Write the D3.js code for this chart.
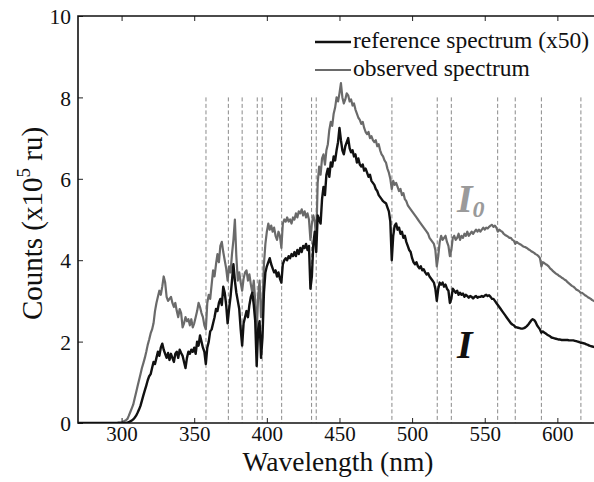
<!DOCTYPE html>
<html>
<head>
<meta charset="utf-8">
<script src="https://cdn.jsdelivr.net/npm/d3@7/dist/d3.min.js"></script>
<style>
  html, body { margin: 0; padding: 0; background: #fff; }
  svg { display: block; }
  text { font-family: "Liberation Serif", "DejaVu Serif", serif; fill: #111; }
</style>
</head>
<body>
<svg id="chart" width="594" height="482"></svg>
<script>
// Wavelength grid of the spectra (nm), one sample per nanometre
const waveStart = 270;
const waveEnd = 630;

// Observed spectrum, counts in units of 1e5
const observed = [
  /*270*/ 0,0,0,0,0,0,0,0,0,0,
  /*280*/ 0,0,0,0,0,0,0,0,0,0,
  /*290*/ 0,0,0,0,0,0,0,0,0.01,0.01,
  /*300*/ 0.01,0.03,0.05,0.07,0.1,0.18,0.27,0.36,0.45,0.6,
  /*310*/ 0.75,0.9,1.05,1.2,1.35,1.47,1.6,1.75,1.92,2.05,
  /*320*/ 2.2,2.3,2.45,2.75,2.95,3.1,3.25,3.15,3.35,3.6,
  /*330*/ 3.45,3.1,3.0,3.05,3.1,2.95,2.85,2.95,2.75,2.6,
  /*340*/ 2.8,2.7,2.35,2.45,2.6,2.5,2.55,2.4,2.55,2.35,
  /*350*/ 2.45,2.6,2.75,2.95,2.85,2.7,2.6,2.4,2.3,2.95,
  /*360*/ 3.15,3.05,3.4,3.75,3.6,3.9,4.15,3.95,4.35,4.45,
  /*370*/ 4.2,4.0,3.8,3.5,3.85,3.7,4.15,4.5,5.0,4.1,
  /*380*/ 3.5,3.7,3.45,3.25,3.55,3.7,3.75,3.5,3.65,3.4,
  /*390*/ 3.2,3.5,3.0,2.2,3.1,3.5,2.6,2.9,3.9,4.4,
  /*400*/ 4.7,4.9,4.75,4.85,4.7,4.8,4.6,4.5,4.7,4.6,
  /*410*/ 4.3,4.9,5.0,4.95,5.05,4.95,5.0,4.9,5.05,5.0,
  /*420*/ 5.15,5.05,5.2,5.15,5.25,5.1,5.2,5.05,5.15,5.0,
  /*430*/ 4.5,4.9,5.1,4.95,4.5,5.9,6.3,6.1,6.5,6.6,
  /*440*/ 6.35,6.7,6.85,7.2,7.4,7.3,7.6,7.75,8.0,7.9,
  /*450*/ 8.1,8.35,8.0,7.85,7.95,8.1,8.05,7.9,7.95,7.8,
  /*460*/ 7.85,7.7,7.6,7.5,7.45,7.35,7.4,7.25,7.15,7.1,
  /*470*/ 7.15,7.0,7.05,6.95,6.9,6.95,6.8,6.85,6.7,6.6,
  /*480*/ 6.55,6.45,6.4,6.25,6.15,6.0,5.75,5.95,5.85,5.9,
  /*490*/ 5.8,5.7,5.75,5.6,5.65,5.5,5.45,5.35,5.3,5.25,
  /*500*/ 5.2,5.15,5.1,5.05,5.0,4.95,4.9,4.85,4.8,4.75,
  /*510*/ 4.7,4.65,4.55,4.5,4.45,4.4,4.25,3.85,4.1,4.45,
  /*520*/ 4.6,4.5,4.55,4.6,4.45,4.35,4.1,4.25,4.55,4.6,
  /*530*/ 4.5,4.55,4.65,4.5,4.6,4.55,4.65,4.6,4.7,4.6,
  /*540*/ 4.65,4.7,4.65,4.7,4.75,4.7,4.75,4.7,4.75,4.8,
  /*550*/ 4.75,4.8,4.78,4.82,4.85,4.87,4.82,4.85,4.8,4.7,
  /*560*/ 4.75,4.72,4.7,4.65,4.62,4.6,4.58,4.55,4.55,4.5,
  /*570*/ 4.48,4.4,4.45,4.42,4.4,4.38,4.35,4.33,4.32,4.3,
  /*580*/ 4.27,4.25,4.22,4.2,4.18,4.15,4.13,4.1,4.05,3.85,
  /*590*/ 3.95,3.93,3.9,3.88,3.85,3.8,3.77,3.73,3.7,3.67,
  /*600*/ 3.65,3.62,3.6,3.57,3.55,3.52,3.5,3.46,3.43,3.4,
  /*610*/ 3.37,3.35,3.32,3.28,3.26,3.24,3.2,3.2,3.17,3.14,
  /*620*/ 3.12,3.09,3.07,3.05,3.02,3.0,2.98,2.95,2.93,2.9,
  /*630*/ 2.88
];

// Reference spectrum (scaled x50), counts in units of 1e5
const reference = [
  /*270*/ 0,0,0,0,0,0,0,0,0,0,
  /*280*/ 0,0,0,0,0,0,0,0,0,0,
  /*290*/ 0,0,0,0,0,0,0,0,0,0,
  /*300*/ 0,0,0,0,0.01,0.02,0.04,0.06,0.09,0.13,
  /*310*/ 0.18,0.25,0.33,0.42,0.55,0.68,0.8,0.92,1.05,1.15,
  /*320*/ 1.2,1.35,1.5,1.45,1.6,1.75,1.65,1.85,1.95,1.8,
  /*330*/ 1.7,1.6,1.72,1.55,1.7,1.6,1.5,1.7,1.75,1.6,
  /*340*/ 1.8,1.72,1.65,1.5,1.35,1.6,1.75,1.7,1.8,1.75,
  /*350*/ 1.85,1.7,2.0,1.9,2.15,2.0,1.85,1.75,1.45,1.85,
  /*360*/ 2.0,2.25,2.3,2.45,2.6,2.8,2.75,2.95,3.05,2.9,
  /*370*/ 3.35,3.2,2.9,2.45,2.8,3.1,3.5,3.9,3.5,3.2,
  /*380*/ 3.0,2.8,2.3,1.9,2.45,2.6,2.75,2.6,2.9,3.1,
  /*390*/ 3.2,2.9,2.5,1.4,2.3,2.5,1.6,2.1,3.2,3.7,
  /*400*/ 3.85,3.95,4.05,3.9,3.8,3.7,3.75,3.6,3.7,3.55,
  /*410*/ 3.45,3.9,4.0,4.05,4.0,4.1,4.05,4.15,4.1,4.2,
  /*420*/ 4.1,4.25,4.15,4.3,4.2,4.35,4.3,4.4,4.25,4.35,
  /*430*/ 3.3,3.6,4.4,4.7,4.2,5.1,5.0,4.9,5.5,5.8,
  /*440*/ 5.6,6.1,6.25,6.05,6.4,6.3,6.55,6.45,6.7,6.9,
  /*450*/ 7.25,6.95,6.7,6.6,6.8,6.9,7.0,6.75,6.65,6.7,
  /*460*/ 6.55,6.6,6.4,6.5,6.35,6.3,6.35,6.2,6.25,6.15,
  /*470*/ 6.05,6.1,5.95,5.9,5.85,5.75,5.7,5.6,5.55,5.5,
  /*480*/ 5.45,5.42,5.4,5.3,5.2,4.95,4.0,4.6,4.85,4.9,
  /*490*/ 4.75,4.8,4.65,4.7,4.55,4.6,4.45,4.35,4.25,4.2,
  /*500*/ 4.05,3.95,3.9,3.95,3.85,3.8,3.85,3.75,3.78,3.7,
  /*510*/ 3.65,3.68,3.6,3.55,3.5,3.45,3.3,3.0,3.3,3.45,
  /*520*/ 3.4,3.45,3.35,3.4,3.3,3.25,2.95,3.05,3.3,3.25,
  /*530*/ 3.2,3.25,3.15,3.2,3.15,3.18,3.1,3.15,3.12,3.08,
  /*540*/ 3.12,3.1,3.06,3.1,3.12,3.08,3.1,3.1,3.12,3.1,
  /*550*/ 3.13,3.15,3.12,3.14,3.1,3.05,3.05,3.0,2.95,2.9,
  /*560*/ 2.85,2.8,2.75,2.7,2.65,2.6,2.55,2.5,2.45,2.42,
  /*570*/ 2.4,2.36,2.35,2.34,2.33,2.32,2.32,2.33,2.35,2.38,
  /*580*/ 2.42,2.47,2.52,2.55,2.53,2.48,2.4,2.35,2.3,2.22,
  /*590*/ 2.25,2.22,2.2,2.17,2.15,2.13,2.1,2.09,2.08,2.07,
  /*600*/ 2.06,2.05,2.05,2.04,2.04,2.04,2.04,2.04,2.03,2.03,
  /*610*/ 2.03,2.03,2.02,2.01,2.0,1.99,1.97,1.97,1.96,1.95,
  /*620*/ 1.93,1.92,1.9,1.89,1.88,1.87,1.86,1.85,1.84,1.83,
  /*630*/ 1.82
];

// Fraunhofer absorption lines marked on the plot (nm)
const absorptionLines = [358.1, 373.5, 383.0, 393.4, 396.8, 410.2, 430.8, 434.0,
                         486.1, 517.3, 527.0, 558.9, 571.0, 589.0, 616.2];
const lineTop = 8;

const xTicks = [300, 350, 400, 450, 500, 550, 600];
const yTicks = [0, 2, 4, 6, 8, 10];

const legendLabels = ["reference spectrum (x50)", "observed spectrum"];

const wavelengths = d3.range(waveStart, waveEnd + 1);

const plot = { left: 78, top: 16, bottom: 423, right: 630 };

const svg = d3.select("#chart");

const x = d3.scaleLinear().domain([270, 650]).range([plot.left, plot.right]);
const y = d3.scaleLinear().domain([0, 10]).range([plot.bottom, plot.top]);

svg.append("defs").append("clipPath").attr("id", "plotClip")
  .append("rect")
  .attr("x", plot.left).attr("y", plot.top)
  .attr("width", plot.right - plot.left).attr("height", plot.bottom - plot.top);

// Absorption line markers
svg.append("g")
  .selectAll("line")
  .data(absorptionLines)
  .join("line")
  .attr("x1", d => x(d)).attr("x2", d => x(d))
  .attr("y1", y(lineTop)).attr("y2", y(0))
  .attr("stroke", "#8a8a8a")
  .attr("stroke-width", 1)
  .attr("stroke-dasharray", "4,2.5");

// Spectra
const line = d3.line()
  .x((d, i) => x(wavelengths[i]))
  .y(d => y(d));

const curves = svg.append("g").attr("clip-path", "url(#plotClip)");
curves.append("path")
  .datum(observed)
  .attr("fill", "none")
  .attr("stroke", "#6a6a6a")
  .attr("stroke-width", 2.2)
  .attr("stroke-linejoin", "round")
  .attr("d", line);
curves.append("path")
  .datum(reference)
  .attr("fill", "none")
  .attr("stroke", "#111")
  .attr("stroke-width", 2.4)
  .attr("stroke-linejoin", "round")
  .attr("d", line);

// Axes (ticks pointing inward)
const xAxis = d3.axisBottom(x).tickValues(xTicks).tickSize(-5).tickFormat(d3.format("d"));
const gx = svg.append("g").attr("transform", `translate(0,${plot.bottom})`).call(xAxis);
gx.select(".domain").remove();
gx.selectAll(".tick line").attr("stroke", "#222").attr("stroke-width", 1);
gx.selectAll(".tick text")
  .attr("font-size", 21)
  .attr("font-family", "Liberation Serif, serif")
  .attr("fill", "#111")
  .attr("y", 18)
  .attr("dy", null);

const xTop = d3.axisTop(x).tickValues(xTicks).tickSize(-5).tickFormat("");
const gxt = svg.append("g").attr("transform", `translate(0,${plot.top})`).call(xTop);
gxt.select(".domain").remove();
gxt.selectAll(".tick line").attr("stroke", "#222").attr("stroke-width", 1);

const yAxis = d3.axisLeft(y).tickValues(yTicks).tickSize(-5).tickFormat(d3.format("d"));
const gy = svg.append("g").attr("transform", `translate(${plot.left},0)`).call(yAxis);
gy.select(".domain").remove();
gy.selectAll(".tick line").attr("stroke", "#222").attr("stroke-width", 1);
gy.selectAll(".tick text")
  .attr("font-size", 21.5)
  .attr("font-family", "Liberation Serif, serif")
  .attr("fill", "#111")
  .attr("x", -7)
  .attr("dy", "0.36em");

// Frame: left, bottom and top edges
svg.append("path")
  .attr("d", `M${plot.right},${plot.top}H${plot.left}V${plot.bottom}H${plot.right}`)
  .attr("fill", "none")
  .attr("stroke", "#111")
  .attr("stroke-width", 1.6);

// Axis titles
svg.append("text")
  .attr("x", 338).attr("y", 471)
  .attr("text-anchor", "middle")
  .attr("font-size", 27.5)
  .text("Wavelength (nm)");

const yTitle = svg.append("text")
  .attr("transform", `translate(42,${(plot.top + plot.bottom) / 2 + 4}) rotate(-90)`)
  .attr("text-anchor", "middle")
  .attr("font-size", 29);
yTitle.append("tspan").text("Counts (x10");
yTitle.append("tspan").attr("font-size", 19).attr("dy", -12).text("5");
yTitle.append("tspan").attr("dy", 12).text(" ru)");

// Legend
const legendColors = ["#111", "#6a6a6a"];
const legendWidths = [2.4, 2.2];
const legend = svg.append("g");
legendLabels.forEach((label, i) => {
  const ly = 42 + i * 28;
  legend.append("line")
    .attr("x1", 315).attr("x2", 351)
    .attr("y1", ly).attr("y2", ly)
    .attr("stroke", legendColors[i])
    .attr("stroke-width", legendWidths[i]);
  legend.append("text")
    .attr("x", 353).attr("y", ly + 6)
    .attr("font-size", 23.5)
    .text(label);
});

// Curve labels
const i0 = svg.append("text")
  .attr("x", 457).attr("y", 212)
  .attr("font-size", 40)
  .attr("font-style", "italic")
  .attr("font-weight", "bold")
  .style("fill", "#9a9a9a");
i0.append("tspan").text("I");
i0.append("tspan").attr("font-size", 24).attr("dy", 5).text("0");

svg.append("text")
  .attr("x", 457).attr("y", 358)
  .attr("font-size", 40)
  .attr("font-style", "italic")
  .attr("font-weight", "bold")
  .style("fill", "#111")
  .text("I");
</script>
</body>
</html>
